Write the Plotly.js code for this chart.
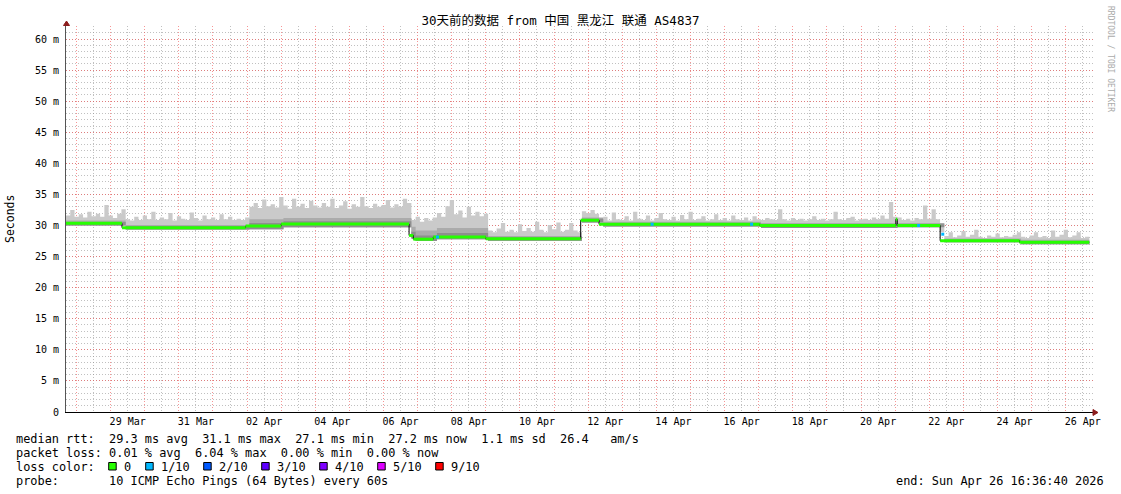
<!DOCTYPE html>
<html><head><meta charset="utf-8">
<script src="https://cdn.plot.ly/plotly-3.0.1.min.js"></script>
<style>html,body{margin:0;padding:0;background:#fff}#chart{width:1121px;height:494px}</style>
</head><body><div id="chart"></div>
<script>
// ---------------- data ----------------
const startTime = '2026-03-27 16:36:40';
const endTime = '2026-04-26 16:36:40';
const sampleHours = 3;

// upper edge of the smoke (slowest ping), one value per 3-hour sample, ms
const smokeMax = [
  31.6, 32.5, 31.4, 31.8, 31.3, 32.2, 31.5, 31.9, 31.4, 33.3, 31.6, 31.2, 31.9, 32.6,
  31.0, 30.8, 31.4, 30.9, 31.6, 31.0, 32.2, 30.9, 31.3, 31.0, 32.0, 30.8, 31.5, 31.1, 30.9,
  32.1, 31.2, 30.8, 31.6, 31.0, 31.3, 30.9, 31.8, 31.0, 31.4, 30.9, 31.1, 30.9, 31.3,
  33.0, 33.6, 32.8, 34.2, 33.1, 33.4, 32.9, 34.6,
  33.2, 32.7, 34.3, 33.0, 33.5, 32.8, 34.0, 33.2, 32.9, 33.6, 33.0, 34.3, 32.8, 33.2, 33.9,
  32.7, 33.4, 33.0, 34.6, 33.1, 32.8, 33.5, 33.0, 33.3, 34.1, 32.9, 33.4, 33.0, 34.3, 33.6,
  30.9, 31.4, 30.6, 31.2, 30.8, 31.3,
  32.0, 31.4, 33.1, 34.1, 31.8, 32.4, 31.3, 33.0, 31.6, 32.2, 31.5, 31.9,
  29.2, 28.9, 29.5, 30.4, 29.0, 29.3, 28.9, 30.2, 29.1, 29.6, 29.0, 30.6, 29.3, 28.9, 30.1,
  29.4, 30.5, 29.0, 29.3, 30.4, 29.2, 28.9,
  32.3, 32.0, 32.5, 31.9,
  31.0, 31.4, 30.8, 32.1, 31.0, 30.9, 31.5, 30.8, 32.2, 31.1, 30.9, 31.6, 30.8, 31.2, 32.0,
  31.0, 30.9, 31.4, 30.8, 31.7, 31.0, 32.2, 30.9, 31.1, 31.5, 30.8, 31.0, 31.8, 30.9, 31.2,
  30.8, 31.6, 31.0, 30.9, 31.3, 30.8, 31.5, 31.0,
  30.9, 31.2, 31.0, 30.9, 32.6, 31.0, 30.8, 31.2, 30.9, 31.1, 30.8, 31.0, 31.5, 30.9, 31.1,
  30.8, 31.0, 32.2, 31.0, 30.9, 31.2, 31.4, 30.8, 31.0, 31.1, 30.9, 31.3, 31.0, 31.6, 31.1,
  33.8, 31.4, 31.3, 30.9, 31.1, 30.8, 31.2, 31.0, 33.2, 31.1, 32.6, 31.0, 28.9,
  28.3, 28.9, 28.1, 28.4, 29.1, 28.2, 28.5, 29.3, 28.2, 28.0, 28.4, 28.2, 28.7, 28.1, 28.3,
  28.2, 28.5, 28.9, 28.2,
  28.0, 28.4, 28.9, 28.1, 28.3, 28.0, 29.2, 28.2, 28.5, 29.3, 28.1, 28.4, 28.9, 28.0, 28.2, 28.1
];

// median rtt, piecewise (start time of each level), ms
const segStart = ['2026-03-27 16:36:40','2026-03-29 08:00','2026-04-01 23:00','2026-04-03 00:00',
  '2026-04-06 18:00','2026-04-06 21:00','2026-04-07 11:00','2026-04-09 00:00','2026-04-11 18:45',
  '2026-04-12 07:40','2026-04-17 00:45','2026-04-21 00:30','2026-04-21 01:30','2026-04-22 07:40',
  '2026-04-24 15:30'];
const medianVal = [30.35, 29.65, 29.9, 30.25, 28.4, 27.8, 28.15, 27.85, 30.85, 30.2, 30.0, 31.0, 30.0, 27.55, 27.3];
const smokeLow  = [30.0, 29.35, 29.4, 29.7, 27.9, 27.5, 27.8, 27.55, 30.5, 29.85, 29.6, 30.0, 29.7, 27.3, 27.0];
const smokeMid  = [30.8, 30.1, 31.0, 31.2, 29.8, 29.2, 29.6, 28.3, 31.3, 30.6, 30.4, 31.3, 30.4, 27.9, 27.7];
const smokeDark = [30.55, 29.9, 30.4, 30.7, 29.0, 28.4, 28.8, 28.1, 31.1, 30.4, 30.2, 31.1, 30.2, 27.7, 27.5];

// samples with 1/10 packet loss
const lossTimes = ['2026-04-07 14:00','2026-04-13 21:00','2026-04-16 19:00','2026-04-21 16:30','2026-04-22 09:30'];
const lossValues = [28.15, 30.2, 30.2, 30.0, 28.6];

const tickDates = ['2026-03-29 12:00','2026-03-31 12:00','2026-04-02 12:00','2026-04-04 12:00','2026-04-06 12:00',
  '2026-04-08 12:00','2026-04-10 12:00','2026-04-12 12:00','2026-04-14 12:00','2026-04-16 12:00',
  '2026-04-18 12:00','2026-04-20 12:00','2026-04-22 12:00','2026-04-24 12:00','2026-04-26 12:00'];
const tickLabels = ['29 Mar','31 Mar','02 Apr','04 Apr','06 Apr','08 Apr','10 Apr','12 Apr','14 Apr',
  '16 Apr','18 Apr','20 Apr','22 Apr','24 Apr','26 Apr'];
const yTickVals = [0,5,10,15,20,25,30,35,40,45,50,55,60];
const yTickText = ['0','5 m','10 m','15 m','20 m','25 m','30 m','35 m','40 m','45 m','50 m','55 m','60 m'];

const lossLabels = ['0','1/10','2/10','3/10','4/10','5/10','9/10'];
const lossColors = ['#26ff00','#00b8ff','#0059ff','#5e00ff','#7e00ff','#dd00ff','#ff0000'];

const titleText = '30天前的数据 from 中国 黑龙江 联通 AS4837';
const statLines = [
  'median rtt:  29.3 ms avg  31.1 ms max  27.1 ms min  27.2 ms now  1.1 ms sd  26.4   am/s',
  'packet loss: 0.01 % avg  6.04 % max  0.00 % min  0.00 % now'
];
const lossLine = 'loss color:';
const probeLine = 'probe:       10 ICMP Echo Pings (64 Bytes) every 60s';
const endLine = 'end: Sun Apr 26 16:36:40 2026';
const watermark = 'RRDTOOL / TOBI OETIKER';

// ---------------- helpers ----------------
const toMs = s => Date.parse(s.replace(' ', 'T') + 'Z');
const fmt = ms => new Date(ms).toISOString().slice(0, 19).replace('T', ' ');
const nb = s => s.replace(/ /g, '\u00a0');
const F = "'DejaVu Sans Mono', 'Noto Sans CJK SC', monospace";

const L = 66, R = 1093, T = 26, B = 412;
const px = x => (x - L) / (R - L);
const py = y => (B - y) / (B - T);

const t0 = toMs(startTime), tEnd = toMs(endTime);
const rangeEnd = fmt(t0 + (R - L) / 34.11 * 86400000);
const sampleT = smokeMax.map((v, i) => fmt(t0 + i * sampleHours * 3600000));
const segMs = segStart.map(toMs);
const segOf = s => { const m = toMs(s); let k = 0; for (let j = 0; j < segMs.length; j++) if (segMs[j] <= m) k = j; return k; };
const lowS = sampleT.map(s => smokeLow[segOf(s)]);
const midS = sampleT.map(s => smokeMid[segOf(s)]);
const darkS = sampleT.map(s => smokeDark[segOf(s)]);

const base = {type: 'scatter', mode: 'lines', hoverinfo: 'skip', showlegend: false};
const traces = [];
function band(upper, color) {
  traces.push(Object.assign({}, base, {x: sampleT, y: lowS, line: {width: 0, shape: 'hv'}}));
  traces.push(Object.assign({}, base, {x: sampleT, y: upper, line: {width: 0, shape: 'hv'}, fill: 'tonexty', fillcolor: color}));
}
band(smokeMax, '#cacaca');
band(midS, '#ababab');
band(darkS, '#8e8e8e');

// median black line
traces.push(Object.assign({}, base, {
  x: segStart.concat([endTime]), y: medianVal.concat([medianVal[medianVal.length - 1]]),
  line: {color: '#000', width: 1, shape: 'hv'}
}));
// median coloured by loss (0 loss = green)
const gx = [], gy = [];
segStart.forEach((s, k) => {
  const e = k + 1 < segStart.length ? segStart[k + 1] : endTime;
  gx.push(s, e, null); gy.push(medianVal[k], medianVal[k], null);
});
traces.push(Object.assign({}, base, {x: gx, y: gy, connectgaps: false, line: {color: lossColors[0], width: 3}}));
traces.push(Object.assign({}, base, {mode: 'markers', x: lossTimes, y: lossValues,
  marker: {symbol: 'square', size: 3, color: lossColors[1], line: {width: 0}}}));
// carrier for the label axis
traces.push(Object.assign({}, base, {x: [tickDates[0]], y: [null], xaxis: 'x2'}));

// ---------------- annotations / shapes ----------------
const ann = [];
const txt = (text, x, y, extra) => ann.push(Object.assign({
  text: nb(text), xref: 'paper', yref: 'paper', x: px(x), y: py(y), xanchor: 'left', yanchor: 'middle',
  showarrow: false, font: {family: F, size: 11.9, color: '#000'}, borderpad: 0
}, extra || {}));
txt(statLines[0], 15, 438.5);
txt(statLines[1], 15, 452.5);
txt(lossLine, 15, 466.5);
txt(probeLine, 15, 480.5);
txt(endLine, 1105, 480.5, {xanchor: 'right'});
txt('Seconds', 10, 219, {xanchor: 'center', textangle: -90, font: {family: F, size: 11.5, color: '#000'}});
txt(watermark, 1110, 59, {xanchor: 'center', textangle: 90, font: {family: F, size: 8, color: '#aaaaaa'}});

const shapes = [];
let bx = 108.7;
lossLabels.forEach((lab, i) => {
  shapes.push({type: 'rect', xref: 'paper', yref: 'paper', x0: px(bx), x1: px(bx + 7.5), y0: py(470), y1: py(462.5),
    fillcolor: lossColors[i], line: {color: '#000', width: 1}});
  txt(lab, bx + 14, 466.5);
  bx += 30 + 7.0 * lab.length;
});
const arrowColor = '#8c1c1c';
shapes.push({type: 'path', xref: 'paper', yref: 'paper', fillcolor: arrowColor, line: {color: arrowColor, width: 1},
  path: `M ${px(63.5)},${py(25.5)} L ${px(69.5)},${py(25.5)} L ${px(66.5)},${py(21)} Z`});
shapes.push({type: 'path', xref: 'paper', yref: 'paper', fillcolor: arrowColor, line: {color: arrowColor, width: 1},
  path: `M ${px(1093)},${py(409.5)} L ${px(1093)},${py(415.5)} L ${px(1098)},${py(412.5)} Z`});

const redGrid = 'rgba(240,80,80,0.6)', grayGrid = 'rgba(140,140,140,0.55)';
const layout = {
  width: 1121, height: 494, margin: {l: L, r: 1121 - R, t: T, b: 494 - B, pad: 0},
  paper_bgcolor: '#fff', plot_bgcolor: '#fff', showlegend: false,
  font: {family: F, size: 10, color: '#000'},
  title: {text: titleText, font: {family: F, size: 12.5, color: '#000'}, xref: 'container', x: 0.5, xanchor: 'center',
    yref: 'container', y: 1 - 21 / 494, yanchor: 'middle'},
  xaxis: {type: 'date', range: [startTime, rangeEnd], tick0: '2026-03-28 00:00:00', dtick: 86400000,
    showgrid: true, gridcolor: redGrid, griddash: '1px,2px', gridwidth: 1, showticklabels: false, ticks: '',
    zeroline: false, showline: true, linecolor: '#000', linewidth: 1, fixedrange: true,
    minor: {tick0: '2026-03-28 00:00:00', dtick: 43200000, showgrid: true, gridcolor: grayGrid, griddash: '1px,2px', gridwidth: 1, ticks: ''}},
  xaxis2: {type: 'date', overlaying: 'x', anchor: 'y', side: 'bottom', range: [startTime, rangeEnd],
    tickmode: 'array', tickvals: tickDates, ticktext: tickLabels, showgrid: false, zeroline: false, showline: false,
    ticks: '', ticklabelstandoff: 2, tickfont: {family: F, size: 10, color: '#000'}, fixedrange: true},
  yaxis: {range: [0, (B - T) / 6.2167], tickmode: 'array', tickvals: yTickVals, ticktext: yTickText,
    showgrid: true, gridcolor: redGrid, griddash: '1px,2px', gridwidth: 1, zeroline: false,
    showline: true, linecolor: '#555', linewidth: 1, ticks: '', ticklabelstandoff: 4,
    tickfont: {family: F, size: 10, color: '#000'}, fixedrange: true,
    minor: {tickmode: 'linear', tick0: 0, dtick: 1, showgrid: true, gridcolor: grayGrid, griddash: '1px,2px', gridwidth: 1, ticks: ''}},
  annotations: ann, shapes: shapes
};
Plotly.newPlot('chart', traces, layout, {staticPlot: true, displayModeBar: false});
</script></body></html>
